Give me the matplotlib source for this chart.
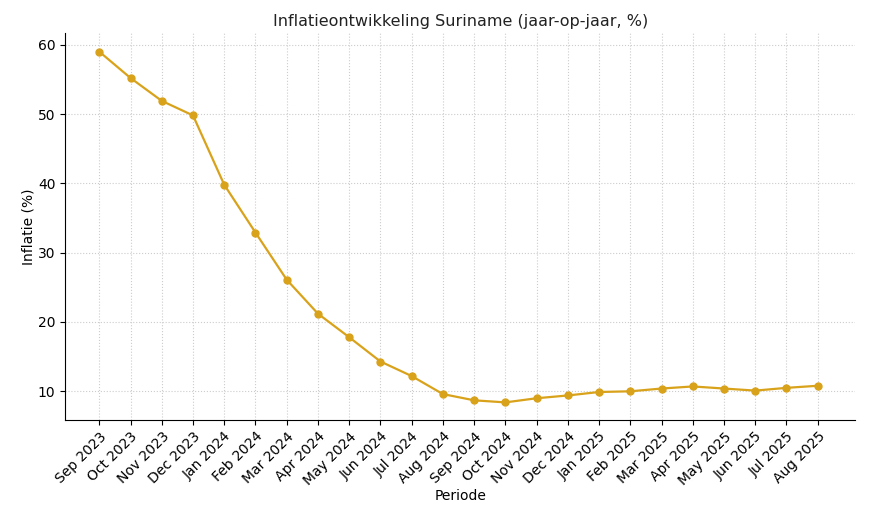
import matplotlib
matplotlib.use("Agg")
import matplotlib.pyplot as plt

periods = ["Sep 2023", "Oct 2023", "Nov 2023", "Dec 2023", "Jan 2024", "Feb 2024",
           "Mar 2024", "Apr 2024", "May 2024", "Jun 2024", "Jul 2024", "Aug 2024",
           "Sep 2024", "Oct 2024", "Nov 2024", "Dec 2024", "Jan 2025", "Feb 2025",
           "Mar 2025", "Apr 2025", "May 2025", "Jun 2025", "Jul 2025", "Aug 2025"]
inflation = [59.0, 55.2, 51.9, 49.8, 39.8, 32.9, 26.1, 21.2, 17.8, 14.3, 12.2, 9.6,
             8.7, 8.4, 9.0, 9.4, 9.9, 10.0, 10.4, 10.7, 10.4, 10.1, 10.5, 10.8]
yticks = [10, 20, 30, 40, 50, 60]

fig = plt.figure(figsize=(8.7, 5.15), dpi=100)
ax = fig.add_axes([0.075, 0.185, 0.908, 0.751])
x = list(range(len(periods)))
ax.plot(x, inflation, color="#D9A21B", marker="o", markersize=5, linewidth=1.6)
ax.set_xticks(x)
ax.set_xticklabels(periods, rotation=45, ha="right", rotation_mode="anchor", fontsize=10)
ax.set_yticks(yticks)
ax.tick_params(axis="y", labelsize=10)
ax.set_xlim(-1.09, 24.2)
ax.set_ylim(5.9, 61.7)
ax.grid(True, linestyle=":", color="#cccccc", linewidth=0.8)
for s in ["top", "right"]:
    ax.spines[s].set_visible(False)
ax.set_title("Inflatieontwikkeling Suriname (jaar-op-jaar, %)", fontsize=11.5, pad=5, color="#222222")
ax.set_ylabel("Inflatie (%)", fontsize=10, labelpad=2)
ax.set_xlabel("Periode", fontsize=10, labelpad=1)
fig.savefig("out.png", dpi=100)
